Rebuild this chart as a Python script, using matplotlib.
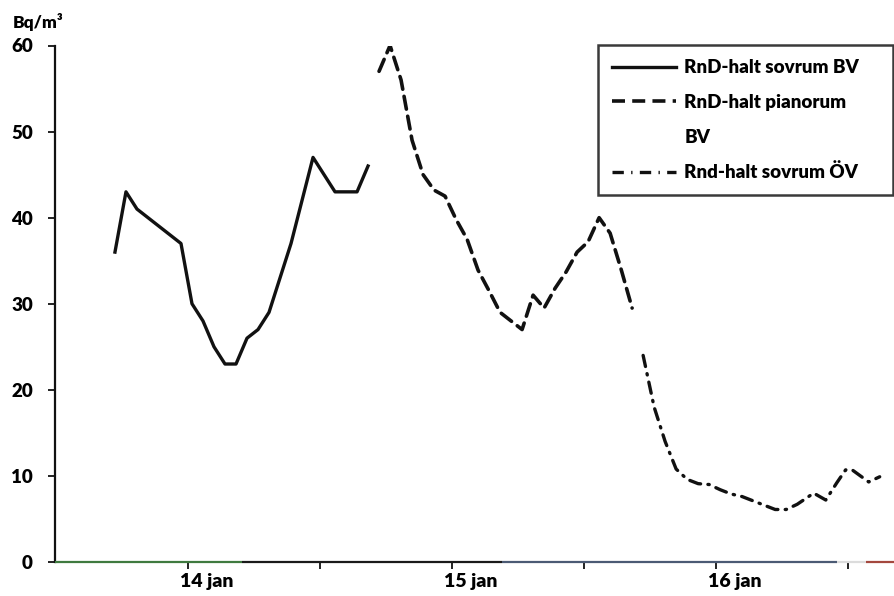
import matplotlib
matplotlib.use("Agg")
import matplotlib.pyplot as plt
from matplotlib.lines import Line2D
from matplotlib.transforms import ScaledTranslation

plt.rcParams['font.family'] = ['Lato', 'DejaVu Sans']
plt.rcParams['font.weight'] = 'heavy'

# Time axis in hours counted from 14 jan 00:00
sovrum_bv_t = [-6.6, -5.6, -4.6, -3.6, -2.6, -1.6, -0.6, 0.4, 1.4, 2.4, 3.4, 4.4,
               5.4, 6.4, 7.4, 8.4, 9.4, 10.4, 11.4, 12.4, 13.4, 14.4, 15.4, 16.4]
sovrum_bv = [36, 43, 41, 40, 39, 38, 37, 30, 28, 25, 23, 23,
             26, 27, 29, 33, 37, 42, 47, 45, 43, 43, 43, 46]

pianorum_bv_t = [17.4, 18.4, 19.4, 20.4, 21.4, 22.4, 23.4, 24.4, 25.4, 26.4, 27.4, 28.4,
                 29.4, 30.4, 31.4, 32.4, 33.4, 34.4, 35.4, 36.4, 37.4, 38.4, 39.4, 40.4]
pianorum_bv = [57, 60, 56, 49, 45, 43.2, 42.5, 39.8, 37.5, 33.9, 31.5, 29,
               28, 27, 31, 29.5, 31.8, 33.7, 36, 37.2, 40, 38.2, 34, 29.5]

sovrum_ov_t = [41.4, 42.4, 43.4, 44.4, 45.4, 46.4, 47.4, 48.4, 49.4, 50.4, 51.4, 52.4,
               53.4, 54.4, 55.4, 56.9, 58.0, 59.0, 59.8, 60.4, 61.9, 62.9]
sovrum_ov = [24, 18, 14, 10.8, 9.6, 9.1, 9.0, 8.4, 7.9, 7.6, 7.1, 6.6,
             6.1, 6.1, 6.7, 8.0, 7.2, 9.2, 10.7, 10.7, 9.3, 9.9]

series_labels = ["RnD-halt sovrum BV", "RnD-halt pianorum", "BV", "Rnd-halt sovrum ÖV"]

day_ticks = [0, 24, 48]
day_labels = ["14 jan", "15 jan", "16 jan"]
half_day_ticks = [12, 36, 60]
y_ticks = [0, 10, 20, 30, 40, 50, 60]

# Colour pieces of the baseline (start hour, end hour, colour)
baseline_pieces = [(-12.05, 4.9, '#3f7a3f'), (4.9, 28.6, '#1a1a1a'),
                   (28.6, 59.0, '#4b5a74'), (59.0, 61.7, '#dcdcdc'),
                   (61.7, 64.2, '#a4483e')]

fig = plt.figure(figsize=(8.94, 5.96), dpi=100)
ax = fig.add_axes([55 / 894, 1 - 562 / 596, 1 - 55 / 894, (562 - 45.5) / 596])

ax.plot(sovrum_bv_t, sovrum_bv, color='#111111', lw=2.4, solid_joinstyle='round')
ax.plot(pianorum_bv_t, pianorum_bv, color='#111111', lw=2.6,
        linestyle=(0, (3.6, 2.0)), dash_capstyle='round')
ax.plot(sovrum_ov_t, sovrum_ov, color='#111111', lw=2.4,
        linestyle=(0, (3.4, 2.2, 0.4, 2.2)), dash_capstyle='round')

ax.set_xlim(-12.05, 64.2)
ax.set_ylim(0, 60)

for side in ('top', 'right', 'bottom'):
    ax.spines[side].set_visible(False)
ax.spines['left'].set_linewidth(1.6)
ax.spines['left'].set_color('#111111')

for x0, x1, c in baseline_pieces:
    ax.hlines(0, x0, x1, colors=c, lw=1.6, clip_on=False, zorder=3)

ax.set_xticks(day_ticks)
ax.set_xticklabels(day_labels)
ax.set_xticks(half_day_ticks, minor=True)
ax.set_yticks(y_ticks)
ax.tick_params(axis='x', which='both', direction='out', length=5, width=1.4,
               color='#222222', pad=3, labelsize=14)
ax.tick_params(axis='y', direction='out', length=5, width=1.4,
               color='#222222', pad=11, labelsize=13.5)
ax.xaxis.get_minor_ticks()[2].tick1line.set_color('#a4483e')

shift = ScaledTranslation(0.19, 0, fig.dpi_scale_trans)
for lab in ax.get_xticklabels():
    lab.set_transform(lab.get_transform() + shift)

fig.text(13 / 894, 1 - 22 / 596, "Bq/m³", ha='left', va='center',
         fontsize=12.5, fontweight='heavy')

handles = [Line2D([], [], color='#111111', lw=2.4),
           Line2D([], [], color='#111111', lw=2.6, linestyle=(0, (3.6, 2.0))),
           Line2D([], [], color='none'),
           Line2D([], [], color='#111111', lw=2.4,
                  linestyle=(0, (3.4, 2.2, 0.4, 2.2)))]
leg = ax.legend(handles, series_labels, loc='upper left',
                bbox_to_anchor=(598 / 894, 1 - 190 / 596, 295 / 894, 145 / 596),
                bbox_transform=fig.transFigure, mode='expand',
                fontsize=13.5, frameon=True, fancybox=False, framealpha=1,
                edgecolor='#3a3a3a', handlelength=3.4, handletextpad=0.45,
                labelspacing=0.95, borderpad=0.75, borderaxespad=0)
leg.get_frame().set_linewidth(1.8)

fig.savefig("out.png", dpi=100, facecolor='white')
